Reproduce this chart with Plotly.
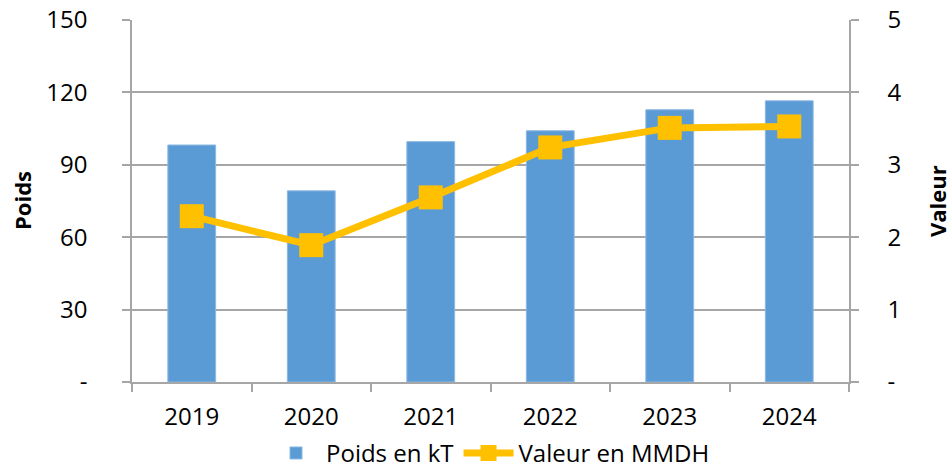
import plotly.graph_objects as go

years = ["2019", "2020", "2021", "2022", "2023", "2024"]
poids_kt = [98.2, 79.2, 99.6, 104.1, 112.8, 116.5]
valeur_mmdh = [2.29, 1.89, 2.55, 3.24, 3.51, 3.53]

left_tickvals = [0, 30, 60, 90, 120, 150]
left_ticktext = ["-", "30", "60", "90", "120", "150"]
right_tickvals = [0, 1, 2, 3, 4, 5]
right_ticktext = ["-", "1", "2", "3", "4", "5"]

FONT = "Open Sans"
GRID = "#A6A6A6"

fig = go.Figure()
fig.add_trace(go.Bar(
    x=years, y=poids_kt, name="Poids en kT",
    marker=dict(color="#5B9BD5", line=dict(color="#8DB8E2", width=1)),
    yaxis="y",
))
fig.add_trace(go.Scatter(
    x=years, y=valeur_mmdh, name="Valeur en MMDH",
    mode="lines+markers",
    line=dict(color="#FFC000", width=7),
    marker=dict(symbol="square", size=24, color="#FFC000"),
    yaxis="y2",
))

fig.update_layout(
    width=952, height=470,
    margin=dict(l=132, r=103, t=20, b=88, autoexpand=False),
    paper_bgcolor="white", plot_bgcolor="white",
    font=dict(family=FONT, size=24, color="#000000"),
    bargap=0.6,
    showlegend=True,
    legend=dict(orientation="h", x=0.5, xanchor="center", y=-0.135, yanchor="top",
                font=dict(size=24), itemwidth=50, traceorder="normal"),
    xaxis=dict(
        type="category", showgrid=False, automargin=False,
        showline=True, linecolor=GRID, linewidth=1.5,
        ticks="outside", tickson="boundaries", ticklen=8, tickcolor=GRID, tickwidth=1.5,
        ticklabelstandoff=12,
    ),
    yaxis=dict(
        range=[0, 150], tickvals=left_tickvals, ticktext=left_ticktext, automargin=False,
        showgrid=True, gridcolor=GRID, gridwidth=1.5,
        showline=True, linecolor=GRID, linewidth=1.5,
        ticks="outside", ticklen=8, tickcolor=GRID, tickwidth=1.5,
        ticklabelstandoff=30, zeroline=False,
    ),
    yaxis2=dict(
        range=[0, 5], tickvals=right_tickvals, ticktext=right_ticktext, automargin=False,
        overlaying="y", side="right", showgrid=False,
        showline=True, linecolor=GRID, linewidth=1.5,
        ticks="outside", ticklen=8, tickcolor=GRID, tickwidth=1.5,
        ticklabelstandoff=24, zeroline=False,
    ),
    annotations=[
        dict(text="<b>Poids</b>", xref="paper", yref="paper", x=0, y=0.5,
             xanchor="center", yanchor="middle", xshift=-110, textangle=-90,
             showarrow=False, font=dict(size=22)),
        dict(text="<b>Valeur</b>", xref="paper", yref="paper", x=1, y=0.5,
             xanchor="center", yanchor="middle", xshift=88, textangle=-90,
             showarrow=False, font=dict(size=22)),
    ],
)

fig.write_html("out.html", config={"displayModeBar": False},
               post_script="document.body.style.margin='0';document.body.style.overflow='hidden';")
